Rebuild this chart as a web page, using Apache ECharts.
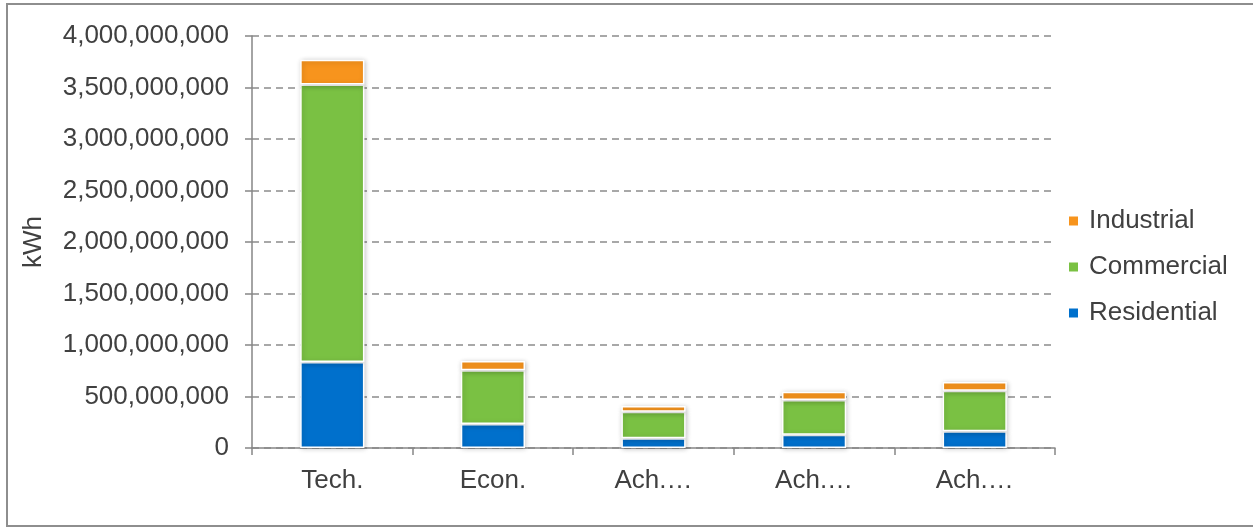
<!DOCTYPE html>
<html>
<head>
<meta charset="utf-8">
<script src="https://cdn.jsdelivr.net/npm/echarts@6/dist/echarts.min.js"></script>
<style>
  html, body { margin: 0; padding: 0; background: #fff; }
  #chart { width: 1253px; height: 527px; }
</style>
</head>
<body>
<div id="chart"></div>
<script>
// Annual savings potential by scenario, kWh
const categories = ['Tech.', 'Econ.', 'Ach.…', 'Ach.…', 'Ach.…'];
const residential = [836000000, 233000000, 95000000, 129000000, 162000000];
const commercial  = [2694000000, 522000000, 257000000, 336000000, 393000000];
const industrial  = [240000000, 90000000, 55000000, 81000000, 85000000];

const FONT = '"Liberation Sans", Arial, sans-serif';
const TEXT = '#404040';
const AXIS = '#868686';

const chart = echarts.init(document.getElementById('chart'), null, { renderer: 'canvas' });

function segment(name, color, values) {
  return {
    name: name,
    type: 'bar',
    stack: 'total',
    barWidth: '40%',
    data: values,
    itemStyle: {
      color: color,
      borderColor: '#ffffff',
      borderWidth: 1.5,
      shadowColor: 'rgba(0,0,0,0.22)',
      shadowBlur: 5,
      shadowOffsetX: 1,
      shadowOffsetY: 1
    },
    emphasis: { disabled: true }
  };
}

chart.setOption({
  animation: false,
  backgroundColor: '#ffffff',
  graphic: [{
    type: 'rect',
    shape: { x: 7, y: 4, width: 1262, height: 522 },
    style: { fill: 'none', stroke: '#8e8e8e', lineWidth: 2 },
    z: -1
  }],
  grid: { left: 252, right: 198, top: 36, bottom: 79, containLabel: false },
  legend: {
    orient: 'vertical',
    left: 1062,
    top: 203,
    itemWidth: 11,
    itemHeight: 11,
    itemGap: 20,
    icon: 'rect',
    data: ['Industrial', 'Commercial', 'Residential'],
    textStyle: { fontFamily: FONT, fontSize: 26, color: TEXT, padding: [0, 0, 0, 5] }
  },
  xAxis: {
    type: 'category',
    data: categories,
    axisLine: { lineStyle: { color: AXIS, width: 1.5 } },
    axisTick: { show: true, length: 7, alignWithLabel: false, lineStyle: { color: AXIS, width: 1.5 } },
    axisLabel: { fontFamily: FONT, fontSize: 26, color: TEXT, margin: 20 },
    splitLine: { show: false }
  },
  yAxis: {
    type: 'value',
    min: 0,
    max: 4000000000,
    interval: 500000000,
    name: 'kWh',
    nameLocation: 'middle',
    nameGap: 205,
    nameRotate: 90,
    nameTextStyle: { fontFamily: FONT, fontSize: 26, color: TEXT },
    axisLine: { show: true, lineStyle: { color: AXIS, width: 1.5 } },
    axisTick: { show: true, length: 7, lineStyle: { color: AXIS, width: 1.5 } },
    axisLabel: {
      fontFamily: FONT, fontSize: 26, color: TEXT, margin: 23,
      formatter: v => v.toLocaleString('en-US')
    },
    splitLine: { show: true, lineStyle: { color: '#8c8c8c', type: [7, 5], width: 1.5 } }
  },
  series: [
    segment('Residential', '#0070cc', residential),
    segment('Commercial', '#7ac143', commercial),
    segment('Industrial', '#f7941d', industrial)
  ]
});
</script>
</body>
</html>
